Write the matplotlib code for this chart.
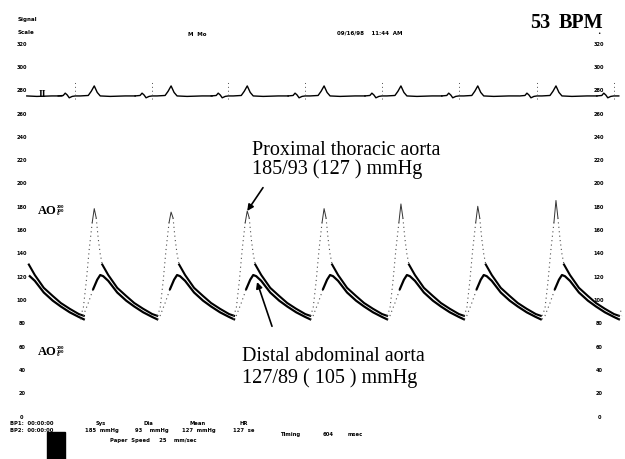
import numpy as np
import matplotlib.pyplot as plt

# --- datos leidos del trazado ---
# inicio de cada latido (valle antes de la subida), en segundos
inicios = [0.10, 1.18, 2.31, 3.43, 4.56, 5.69, 6.82, 7.97, 9.10]
# pico sistolico de la aorta toracica proximal en cada latido (mmHg)
picos_toracica = [178, 178, 175, 176, 178, 182, 180, 185, 185]

# forma de un latido: tiempo relativo al inicio (s) y presion (mmHg)
t_toracica = [0.0, 0.044, 0.088, 0.132, 0.176, 0.206, 0.235, 0.265, 0.294, 0.324,
              0.412, 0.544, 0.676, 0.794, 0.926, 1.059, 1.132]
p_toracica = [86, 92, 115, 143, 166, None, 170, 152, 139, 130,
              121, 110, 103, 97, 92, 87.5, 86]
t_abdominal = [0.0, 0.044, 0.118, 0.191, 0.25, 0.294, 0.338, 0.412, 0.544,
               0.676, 0.794, 0.926, 1.059, 1.132]
p_abdominal = [83, 86, 97, 109, 117, 121, 120, 116, 106, 99, 94, 89, 85, 83]

# ECG (derivacion II), relativo al inicio de cada latido, en mV
t_ecg = [-0.324, -0.25, -0.221, -0.191, -0.162, -0.118, -0.074, 0.0,
         0.118, 0.162, 0.206, 0.25, 0.294, 0.441, 0.662, 0.809]
v_ecg = [0.0, 0.02, 0.12, 0.04, -0.08, -0.02, 0.0, 0.0,
         0.02, 0.2, 0.43, 0.15, 0.0, -0.02, 0.0, 0.0]

escala = list(range(0, 340, 20))

# --- figura ---
fig = plt.figure(figsize=(6.25, 4.6), dpi=100)
ax = fig.add_axes([0, 0, 1, 1])
ax.set_xlim(0, 625 / 68)
ax.set_ylim(-36.9, 357.9)
ax.axis('off')

ax_ecg = fig.add_axes([0, 0, 1, 1], sharex=ax)
ax_ecg.set_ylim(-15.58, 4.16)
ax_ecg.axis('off')
ax_ecg.patch.set_visible(False)

t_ini, t_fin = 28 / 68, 623 / 68
tenue = dict(color='0.3', lw=0.8, ls=(0, (1, 3)))

def tramo(t0, ts, ps, a, b):
    x = np.array([t0 + t for t in ts[a:b]])
    y = np.array(ps[a:b], dtype=float)
    m = (x >= t_ini) & (x <= t_fin)
    return x[m], y[m]

for k, t0 in enumerate(inicios):
    pt = list(p_toracica)
    pt[5] = picos_toracica[k]
    # toracica: subida tenue, pico fino, caida solida
    x, y = tramo(t0, t_toracica, pt, 0, 5)
    ax.plot(x, y, **tenue)
    x, y = tramo(t0, t_toracica, pt, 4, 7)
    ax.plot(x, y, color='0.2', lw=0.7)
    x, y = tramo(t0, t_toracica, pt, 6, 10)
    ax.plot(x, y, **tenue)
    x, y = tramo(t0, t_toracica, pt, 9, None)
    ax.plot(x, y, color='black', lw=1.5)
    # abdominal
    x, y = tramo(t0, t_abdominal, p_abdominal, 0, 4)
    ax.plot(x, y, **tenue)
    x, y = tramo(t0, t_abdominal, p_abdominal, 3, None)
    ax.plot(x, y, color='black', lw=1.6)

    # ECG
    xe = np.array([t0 + t for t in t_ecg])
    ye = np.array(v_ecg)
    m = (xe >= 25 / 68) & (xe <= 625 / 68)
    ax_ecg.plot(xe[m], ye[m], color='black', lw=1.0)
    # marca de disparo
    if 25 / 68 < t0 - 0.074 < 620 / 68:
        ax_ecg.plot([t0 - 0.074, t0 - 0.074], [-0.15, 0.6], color='0.3',
                    lw=0.7, ls=(0, (1, 3)))

# escalas laterales
for v in escala:
    ax.text(22 / 68, v, str(v), fontsize=3.6, fontweight='bold',
            ha='center', va='center')
    ax.text(599 / 68, v, str(v), fontsize=3.6, fontweight='bold',
            ha='center', va='center')

serif = 'Liberation Serif'

# etiquetas de canal
for yv in (177, 56):
    ax.text(38 / 68, yv, 'AO', fontsize=9, fontweight='bold', family=serif,
            ha='left', va='center')
    ax.text(57 / 68, yv, '200\n100\n0', fontsize=2.6, fontweight='bold',
            ha='left', va='center', linespacing=0.9)
ax_ecg.text(42 / 68, 0.1, 'II', fontsize=7, fontweight='bold', family=serif,
            ha='center', va='center')

# anotaciones
ax.text(252 / 68, 225, 'Proximal thoracic aorta', fontsize=14.5,
        family=serif, ha='left', va='baseline')
ax.text(252 / 68, 208.5, '185/93 (127 ) mmHg', fontsize=14.5,
        family=serif, ha='left', va='baseline')
ax.text(242 / 68, 48, 'Distal abdominal aorta', fontsize=14.5,
        family=serif, ha='left', va='baseline')
ax.text(242 / 68, 29, '127/89 ( 105 ) mmHg', fontsize=14.5,
        family=serif, ha='left', va='baseline')

ax.annotate('', xy=(inicios[3] + 0.206, picos_toracica[3]),
            xytext=(263 / 68, 196),
            arrowprops=dict(arrowstyle='-|>', color='black', lw=1.2,
                            mutation_scale=9, shrinkA=0, shrinkB=0))
ax.annotate('', xy=(inicios[3] + 0.35, 115), xytext=(272 / 68, 77),
            arrowprops=dict(arrowstyle='-|>', color='black', lw=1.2,
                            mutation_scale=9, shrinkA=0, shrinkB=0))

# encabezado
fig.text(530 / 625, 1 - 28 / 460, '53', fontsize=14.5, fontweight='bold',
         family=serif, ha='left', va='baseline')
fig.text(603 / 625, 1 - 28 / 460, 'BPM', fontsize=14.5, fontweight='bold',
         family=serif, ha='right', va='baseline')
fig.text(18 / 625, 1 - 20 / 460, 'Signal', fontsize=4, fontweight='bold', va='center')
fig.text(18 / 625, 1 - 33 / 460, 'Scale', fontsize=4, fontweight='bold', va='center')
fig.text(188 / 625, 1 - 34 / 460, 'M  Mo', fontsize=4, fontweight='bold', va='center')
fig.text(337 / 625, 1 - 33 / 460, '09/16/98    11:44  AM', fontsize=4,
         fontweight='bold', va='center')
fig.text(599 / 625, 1 - 34 / 460, '•', fontsize=4, ha='center', va='center')

# pie
pie = [
    (10, 424, 'BP1:  00:00:00'), (10, 431, 'BP2:  00:00:00'),
    (96, 424, 'Sys'), (85, 431, '185  mmHg'),
    (143, 424, 'Dia'), (135, 431, '93    mmHg'),
    (190, 424, 'Mean'), (182, 431, '127  mmHg'),
    (240, 424, 'HR'), (233, 431, '127  se'),
    (110, 441, 'Paper  Speed     25    mm/sec'),
    (280, 435, 'Timing'), (323, 435, '604'), (348, 435, 'msec'),
]
for px, py, s in pie:
    fig.text(px / 625, 1 - py / 460, s, fontsize=3.8, fontweight='bold', va='center')
fig.patches.append(plt.Rectangle((47 / 625, 0), 18 / 625, 27 / 460,
                                 transform=fig.transFigure, color='black'))

plt.savefig('out.png', dpi=100)
plt.close()
